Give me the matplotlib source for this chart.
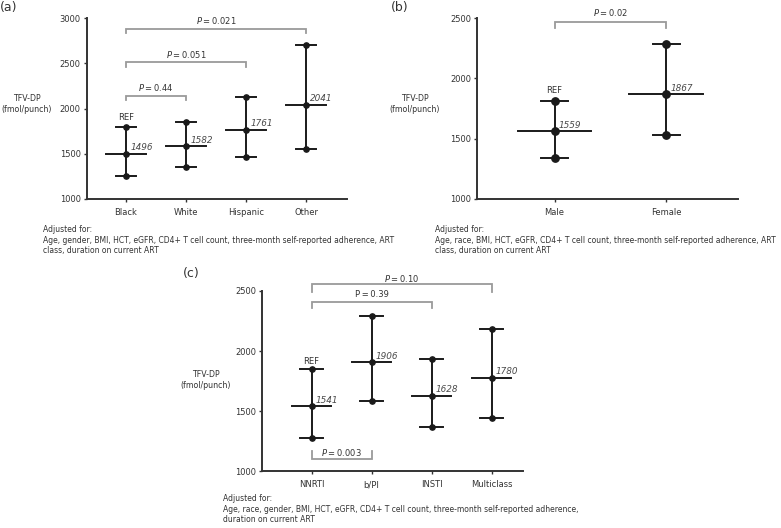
import matplotlib
matplotlib.use("Agg")
import matplotlib.pyplot as plt

# ── DATA ──────────────────────────────────────────────────────────────────────

race_cats = ["Black", "White", "Hispanic", "Other"]
race_mean = [1496, 1582, 1761, 2041]
race_low  = [1250, 1352, 1462, 1548]
race_high = [1795, 1852, 2125, 2700]
race_pvals = ["0.44", "0.051", "0.021"]

sex_cats = ["Male", "Female"]
sex_mean = [1559, 1867]
sex_low  = [1336, 1530]
sex_high = [1815, 2286]
sex_pvals = ["0.02"]

art_cats = ["NNRTI", "b/PI", "INSTI", "Multiclass"]
art_mean = [1541, 1906, 1628, 1780]
art_low  = [1277, 1585, 1371, 1446]
art_high = [1854, 2292, 1932, 2184]
art_pvals = ["0.003", "0.39", "0.10"]

adj_a = "Adjusted for:\nAge, gender, BMI, HCT, eGFR, CD4+ T cell count, three-month self-reported adherence, ART\nclass, duration on current ART"
adj_b = "Adjusted for:\nAge, race, BMI, HCT, eGFR, CD4+ T cell count, three-month self-reported adherence, ART\nclass, duration on current ART"
adj_c = "Adjusted for:\nAge, race, gender, BMI, HCT, eGFR, CD4+ T cell count, three-month self-reported adherence,\nduration on current ART"

# ── STYLE ─────────────────────────────────────────────────────────────────────

W, H = 781, 528
LINE  = "#1a1a1a"
SPINE = "#333333"
GREY  = "#9a9a9a"
TXT   = "#333333"
FS    = 6.0

plt.rcParams["font.family"] = "DejaVu Sans"
plt.rcParams["mathtext.fontset"] = "dejavusans"

fig = plt.figure(figsize=(W / 100, H / 100), dpi=100)


def px_axes(left, top, right, bottom):
    # pixel box (top-left origin) -> figure axes
    return fig.add_axes([left / W, 1 - bottom / H, (right - left) / W, (bottom - top) / H])


def style_axes(ax, cats, ylim, xlim):
    ax.set_xlim(*xlim)
    ax.set_ylim(*ylim)
    ax.set_yticks(range(ylim[0], ylim[1] + 1, 500))
    ax.set_xticks(range(len(cats)))
    ax.set_xticklabels(cats)
    for s in ["top", "right"]:
        ax.spines[s].set_visible(False)
    for s in ["left", "bottom"]:
        ax.spines[s].set_linewidth(1.4)
        ax.spines[s].set_color(SPINE)
    ax.tick_params(axis="both", length=2.5, width=1.0, color=SPINE,
                   labelsize=FS, labelcolor=TXT, pad=2)
    ax.tick_params(axis="x", pad=4)
    ax.patch.set_alpha(0)


def draw_ci(ax, mean, low, high, cap_w, mean_w, ms, ref_dy):
    for i, (m, lo, hi) in enumerate(zip(mean, low, high)):
        ax.plot([i, i], [lo, hi], color=LINE, lw=1.4, zorder=3)
        ax.plot([i - cap_w, i + cap_w], [hi, hi], color=LINE, lw=1.4, zorder=3)
        ax.plot([i - cap_w, i + cap_w], [lo, lo], color=LINE, lw=1.4, zorder=3)
        ax.plot([i - mean_w, i + mean_w], [m, m], color=LINE, lw=1.4, zorder=3)
        ax.plot([i, i, i], [lo, m, hi], "o", color=LINE, ms=ms, zorder=4)
        ax.annotate(f"{m}", (i, m), xytext=(3, 4.5), textcoords="offset points",
                    fontsize=FS + 0.4, style="italic", color="#4a4a4a",
                    ha="left", va="center")
    ax.annotate("REF", (0, high[0]), xytext=(0, ref_dy), textcoords="offset points",
                fontsize=FS, color=TXT, ha="center", va="center")


def bracket(ax, x0, x1, y_bar, y_end, text, y_text, italic=True):
    ax.plot([x0, x0, x1, x1], [y_end, y_bar, y_bar, y_end], color=GREY,
            lw=1.3, clip_on=False, zorder=2, solid_joinstyle="miter")
    label = ("$\\mathit{P}$" if italic else "P") + "\u2009=\u2009" + text
    ax.text((x0 + x1) / 2, y_text, label, fontsize=FS, color=TXT,
            ha="center", va="center", clip_on=False)


# ── PANEL (a) ─────────────────────────────────────────────────────────────────

ax_a = px_axes(87, 18.3, 347, 199)
style_axes(ax_a, race_cats, (1000, 3000), (-0.65, 3.68))
draw_ci(ax_a, race_mean, race_low, race_high, 0.17, 0.33, 3.8, 7)
bracket(ax_a, 0, 1, 2140, 2096, race_pvals[0], 2232)
bracket(ax_a, 0, 2, 2516, 2465, race_pvals[1], 2601)
bracket(ax_a, 0, 3, 2878, 2834, race_pvals[2], 2974)

# ── PANEL (b) ─────────────────────────────────────────────────────────────────

ax_b = px_axes(477.3, 18.3, 738, 198.7)
style_axes(ax_b, sex_cats, (1000, 2500), (-0.69, 1.64))
draw_ci(ax_b, sex_mean, sex_low, sex_high, 0.12, 0.33, 5.3, 7.5)
bracket(ax_b, 0, 1, 2472, 2417, sex_pvals[0], 2545)

# ── PANEL (c) ─────────────────────────────────────────────────────────────────

ax_c = px_axes(262.3, 291, 523.3, 471.3)
style_axes(ax_c, art_cats, (1000, 2500), (-0.82, 3.53))
draw_ci(ax_c, art_mean, art_low, art_high, 0.19, 0.33, 3.8, 5.5)
bracket(ax_c, 0, 1, 1102, 1171, art_pvals[0], 1160)
bracket(ax_c, 0, 2, 2411, 2356, art_pvals[1], 2467, italic=False)
bracket(ax_c, 0, 3, 2556, 2489, art_pvals[2], 2606)

# ── LABELS / FOOTNOTES ────────────────────────────────────────────────────────

for lx, ly, lab in [(0, 8, "(a)"), (391, 8, "(b)"), (183, 273, "(c)")]:
    fig.text(lx / W, 1 - ly / H, lab, fontsize=9, color=TXT, ha="left", va="center")

for cx, cy in [(27, 104), (415, 104), (206, 380)]:
    fig.text(cx / W, 1 - cy / H, "TFV-DP\n(fmol/punch)", fontsize=5.7, color=TXT,
             ha="center", va="center", linespacing=1.35)

for fx, fy, txt in [(42.7, 225, adj_a), (435, 225, adj_b), (223.3, 494, adj_c)]:
    fig.text(fx / W, 1 - fy / H, txt, fontsize=5.5, color=TXT,
             ha="left", va="top", linespacing=1.25)

fig.savefig("out.png", dpi=100)
